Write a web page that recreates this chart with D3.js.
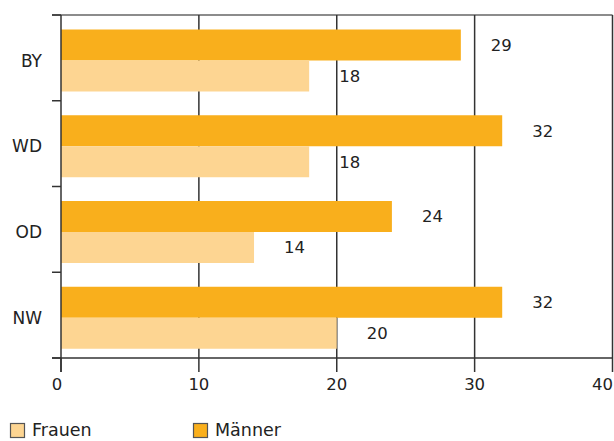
<!DOCTYPE html>
<html><head><meta charset="utf-8">
<script src="https://cdn.jsdelivr.net/npm/d3@7"></script>
<style>
html,body{margin:0;padding:0;background:#fff;}
svg{display:block;font-family:"DejaVu Sans",sans-serif;}
</style></head>
<body><svg id="c" width="614" height="441"></svg>
<script>
const categories = ["BY", "WD", "OD", "NW"];
const series = ["Männer", "Frauen"];
const maenner = [29, 32, 24, 32];
const frauen = [18, 18, 14, 20];
const xTicks = [0, 10, 20, 30, 40];
const legendLabels = ["Frauen", "Männer"];
const colors = {"Männer": "#F9AF1C", "Frauen": "#FDD592"};

(function () {
const svg = d3.select("#c");
const mL = 61, mR = 612.5, mT = 15, mB = 358;
const x = d3.scaleLinear().domain([0, 40]).range([mL, mR]);
const y = d3.scaleBand().domain(categories).range([mT, mB]).paddingInner(0);
const ys = d3.scaleBand().domain(series).range([14.5, 76.5]);
const valuesBy = {"Männer": maenner, "Frauen": frauen};

// top line
svg.append("line").attr("x1", 52).attr("x2", mR).attr("y1", mT).attr("y2", mT)
  .attr("stroke", "#666").attr("stroke-width", 1.5);
// gridlines
svg.append("g").selectAll("line").data(xTicks.slice(1)).join("line")
  .attr("x1", d => x(d)).attr("x2", d => x(d)).attr("y1", mT).attr("y2", mB)
  .attr("stroke", "#333").attr("stroke-width", 1.5);

// bars
categories.forEach((c, i) => {
  series.forEach(s => {
    const v = valuesBy[s][i];
    const y0 = y(c) + ys(s);
    svg.append("rect").attr("x", x(0)).attr("y", y0)
      .attr("width", x(v) - x(0)).attr("height", ys.bandwidth())
      .attr("fill", colors[s]);
    svg.append("text").attr("x", x(v) + 30).attr("y", y0 + ys.bandwidth() / 2)
      .attr("dy", "0.36em").attr("font-size", 16.5).attr("fill", "#222")
      .text(v);
  });
  svg.append("text").attr("x", 42).attr("y", y(c) + (ys.range()[0] + ys.range()[1]) / 2)
    .attr("dy", "0.36em").attr("text-anchor", "end").attr("font-size", 17).attr("fill", "#222")
    .text(c);
});

// left axis
svg.append("line").attr("x1", mL).attr("x2", mL).attr("y1", mT).attr("y2", 372)
  .attr("stroke", "#333").attr("stroke-width", 1.5);
const bounds = categories.map(c => y(c)).concat([mB]);
svg.append("g").selectAll("line").data(bounds).join("line")
  .attr("x1", 52).attr("x2", mL).attr("y1", d => d).attr("y2", d => d)
  .attr("stroke", "#333").attr("stroke-width", 1.5);

// bottom axis
svg.append("line").attr("x1", 52).attr("x2", mR).attr("y1", mB).attr("y2", mB)
  .attr("stroke", "#333").attr("stroke-width", 1.5);
svg.append("g").selectAll("line").data(xTicks).join("line")
  .attr("x1", d => x(d)).attr("x2", d => x(d)).attr("y1", mB).attr("y2", 372)
  .attr("stroke", "#333").attr("stroke-width", 1.5);
svg.append("g").selectAll("text").data(xTicks).join("text")
  .attr("x", (d, i) => i === xTicks.length - 1 ? 613 : x(d) - (i === 0 ? 4 : 0))
  .attr("y", 390).attr("text-anchor", (d, i) => i === xTicks.length - 1 ? "end" : "middle")
  .attr("font-size", 16.5).attr("fill", "#222").text(d => d);

// legend
const legX = [10, 193];
legendLabels.forEach((l, i) => {
  svg.append("rect").attr("x", legX[i] + 0.5).attr("y", 423.5).attr("width", 14).attr("height", 14)
    .attr("fill", colors[l]).attr("stroke", "#555").attr("stroke-width", 1.2);
  svg.append("text").attr("x", legX[i] + 22).attr("y", 436).attr("font-size", 17.5)
    .attr("fill", "#222").text(l);
});
})();
</script></body></html>
